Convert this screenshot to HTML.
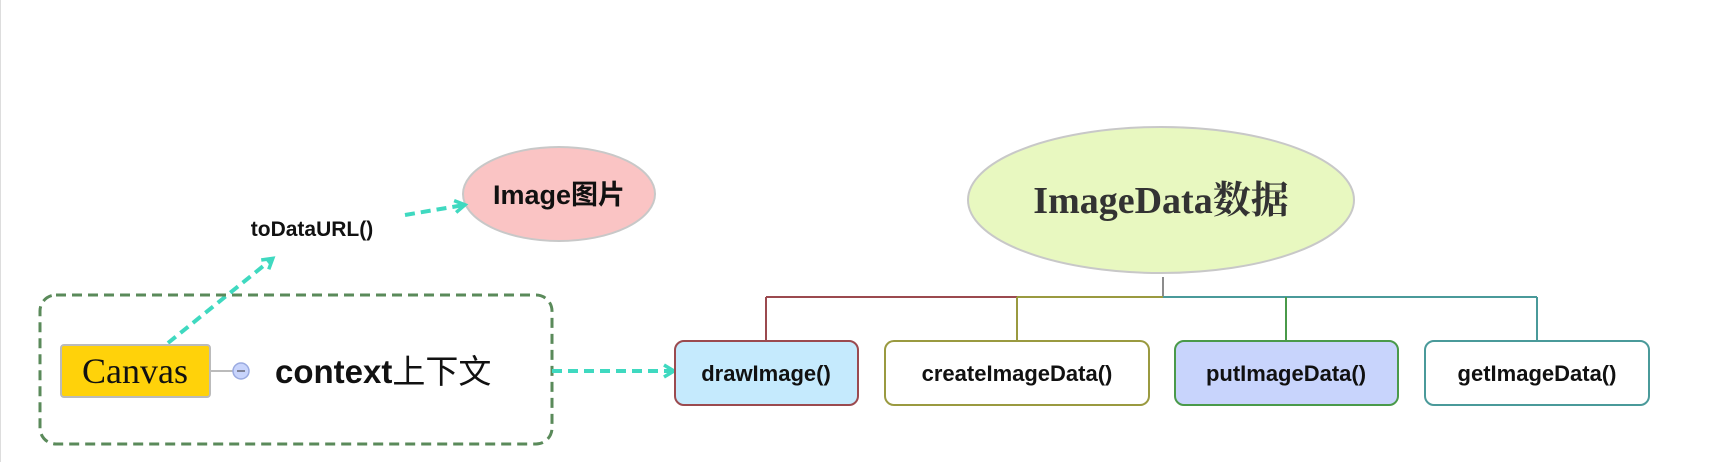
<!DOCTYPE html>
<html><head><meta charset="utf-8"><style>
body{margin:0;background:#fff;}
svg{display:block;}
text{font-family:"Liberation Sans","Noto Sans CJK SC",sans-serif;fill:#111;}
</style></head><body>
<svg width="1728" height="462" viewBox="0 0 1728 462" xmlns="http://www.w3.org/2000/svg">
<defs>
<marker id="ah" markerWidth="16" markerHeight="16" refX="11" refY="8" orient="auto" markerUnits="userSpaceOnUse">
<path d="M2,2 L12,8 L2,14" fill="none" stroke="#3fd9c0" stroke-width="3.5"/>
</marker>
</defs>
<line x1="0.5" y1="0" x2="0.5" y2="462" stroke="#ddd"/>
<ellipse cx="559" cy="194" rx="96" ry="47" fill="#fac4c4" stroke="#c8c8c8" stroke-width="2"/>
<text x="559" y="204" text-anchor="middle" font-size="27" font-weight="bold">Image图片</text>
<text x="312" y="236" text-anchor="middle" font-size="21" font-weight="bold">toDataURL()</text>
<line x1="405" y1="215" x2="464" y2="205" stroke="#3fd9c0" stroke-width="4" stroke-dasharray="10,6" marker-end="url(#ah)"/>
<line x1="168" y1="343" x2="272" y2="259" stroke="#3fd9c0" stroke-width="4" stroke-dasharray="10,6" marker-end="url(#ah)"/>
<rect x="40" y="295" width="512" height="149" rx="16" fill="none" stroke="#5a8a5a" stroke-width="3" stroke-dasharray="10,6"/>
<rect x="61" y="345" width="149" height="52" rx="3" fill="#ffd20a" stroke="#bbb" stroke-width="2"/>
<text x="135" y="383" text-anchor="middle" font-size="36" style="font-family:'Liberation Serif',serif">Canvas</text>
<line x1="210" y1="371" x2="233" y2="371" stroke="#bbb" stroke-width="2"/>
<circle cx="241" cy="371" r="8" fill="#c8d4fc" stroke="#9aaae0" stroke-width="1.5"/>
<line x1="237" y1="371" x2="245" y2="371" stroke="#667" stroke-width="1.5"/>
<text x="275" y="383" font-size="33" font-weight="bold">context<tspan font-weight="normal">上下文</tspan></text>
<line x1="552" y1="371" x2="673" y2="371" stroke="#3fd9c0" stroke-width="4" stroke-dasharray="10,6" marker-end="url(#ah)"/>
<ellipse cx="1161" cy="200" rx="193" ry="73" fill="#e8f8c0" stroke="#c8c8c8" stroke-width="2"/>
<text x="1161" y="213" text-anchor="middle" font-size="38" font-weight="bold" style="font-family:'Liberation Serif','Noto Serif CJK SC',serif;fill:#333">ImageData数据</text>
<line x1="1163" y1="277" x2="1163" y2="297" stroke="#666" stroke-width="1.5"/>
<line x1="766" y1="297" x2="1017" y2="297" stroke="#9b4a4f" stroke-width="2"/>
<line x1="1017" y1="297" x2="1163" y2="297" stroke="#9a9a40" stroke-width="2"/>
<line x1="1163" y1="297" x2="1537" y2="297" stroke="#4a9a9a" stroke-width="2"/>
<line x1="766" y1="297" x2="766" y2="341" stroke="#9b4a4f" stroke-width="2"/>
<line x1="1017" y1="297" x2="1017" y2="341" stroke="#9a9a40" stroke-width="2"/>
<line x1="1286" y1="297" x2="1286" y2="341" stroke="#4a9a4a" stroke-width="2"/>
<line x1="1537" y1="297" x2="1537" y2="341" stroke="#4a9a9a" stroke-width="2"/>
<rect x="675" y="341" width="183" height="64" rx="9" fill="#c5eafd" stroke="#9b4a4f" stroke-width="2"/>
<text x="766" y="381" text-anchor="middle" font-size="22" font-weight="bold">drawImage()</text>
<rect x="885" y="341" width="264" height="64" rx="9" fill="#fff" stroke="#9a9a40" stroke-width="2"/>
<text x="1017" y="381" text-anchor="middle" font-size="22" font-weight="bold">createImageData()</text>
<rect x="1175" y="341" width="223" height="64" rx="9" fill="#c8d4fc" stroke="#4a9a4a" stroke-width="2"/>
<text x="1286" y="381" text-anchor="middle" font-size="22" font-weight="bold">putImageData()</text>
<rect x="1425" y="341" width="224" height="64" rx="9" fill="#fff" stroke="#4a9a9a" stroke-width="2"/>
<text x="1537" y="381" text-anchor="middle" font-size="22" font-weight="bold">getImageData()</text>
</svg>
</body></html>
